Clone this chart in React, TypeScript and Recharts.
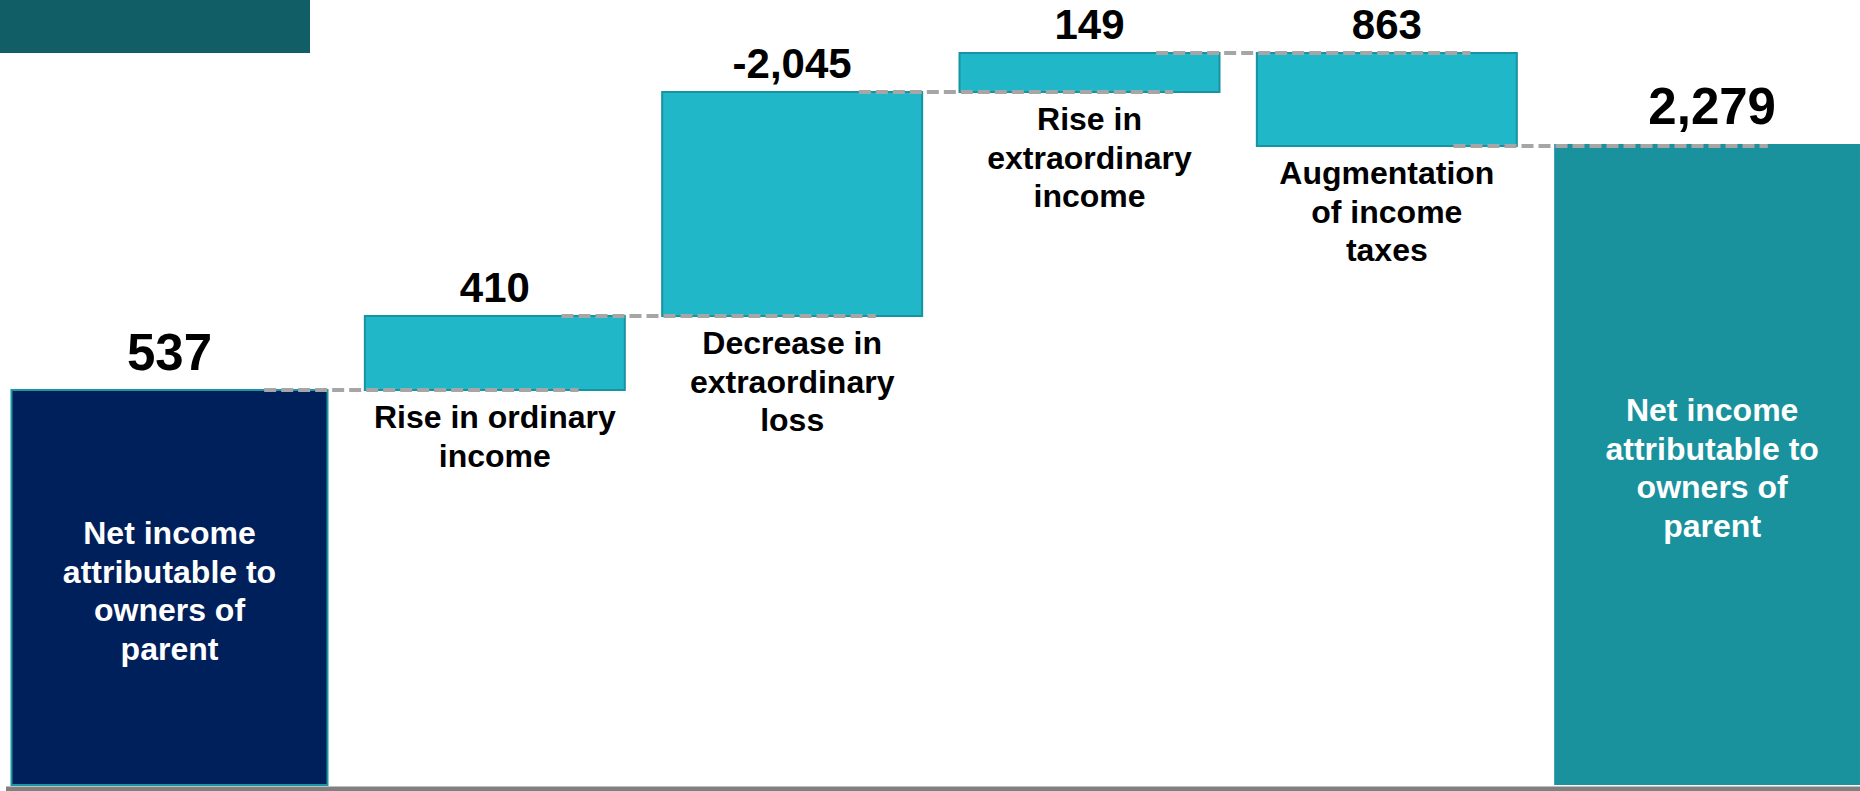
import React from 'react';
import { ComposedChart, Bar, XAxis, YAxis, ReferenceLine, LabelList } from 'recharts';

// ---- Data ----
const categoryKeys = ['start', 'ordinary', 'extraLoss', 'extraIncome', 'taxes', 'end'];
const categoryLines: string[][] = [
  ['Net income', 'attributable to', 'owners of', 'parent'],
  ['Rise in ordinary', 'income'],
  ['Decrease in', 'extraordinary', 'loss'],
  ['Rise in', 'extraordinary', 'income'],
  ['Augmentation', 'of income', 'taxes'],
  ['Net income', 'attributable to', 'owners of', 'parent'],
];
// printed value labels
const valueLabels = ['537', '410', '-2,045', '149', '863', '2,279'];
// step type of each bar in the (schematic) waterfall
const stepKinds = ['total', 'up', 'up', 'up', 'down', 'total'];
// bar heights as drawn in the picture (schematic, not to the printed scale)
const drawnHeights = [395, 74, 224, 39, 93, 641];

// ---- Build the table Recharts needs ----
let running = 0;
const data = categoryKeys.map((key, i) => {
  const kind = stepKinds[i];
  const h = drawnHeights[i];
  let range: [number, number];
  if (kind === 'total') {
    range = [0, h];
    running = h;
  } else if (kind === 'up') {
    range = [running, running + h];
    running += h;
  } else {
    range = [running - h, running];
    running -= h;
  }
  return { key, kind, range, level: running, label: valueLabels[i] };
});

// ---- Styles ----
const FONT = '"Liberation Sans", Arial, Helvetica, sans-serif';
const CHART_W = 1860;
const CHART_H = 791;
const BAR_FILLS = ['#00205B', '#20B7C9', '#20B7C9', '#20B7C9', '#20B7C9', '#1A929E'];
const BAR_STROKES = ['#1C95A2', '#1793A1', '#1793A1', '#1793A1', '#1793A1', 'none'];
const TOTAL_W = 316; // opening / closing totals are wider and extend outward
const CONNECTOR_START = 67;
const CONNECTOR_END = 84;
const LINE_H = 38.5;

function getBox(p: any) {
  const vb = p && p.viewBox && typeof p.viewBox.x === 'number' ? p.viewBox : p;
  return { x: Number(vb.x), y: Number(vb.y), width: Number(vb.width), height: Number(vb.height) };
}

// horizontal extent actually drawn for a bar, given the Recharts rect
function drawnSpan(x: number, width: number, idx: number) {
  if (stepKinds[idx] !== 'total') return { left: x, w: width };
  if (idx === 0) return { left: x + width - TOTAL_W, w: TOTAL_W };
  return { left: x, w: TOTAL_W };
}

function WaterfallBar(props: any) {
  const { x, y, width, height, payload } = props;
  const idx = categoryKeys.indexOf(payload?.key);
  const span = drawnSpan(x, width, idx);
  return (
    <rect
      x={span.left}
      y={y}
      width={span.w}
      height={height}
      fill={BAR_FILLS[idx]}
      stroke={BAR_STROKES[idx]}
      strokeWidth={2}
    />
  );
}

function ValueLabel(props: any) {
  const box = getBox(props);
  let idx = valueLabels.indexOf(String(props.value));
  if (idx < 0 && typeof props.index === 'number') idx = props.index;
  const total = stepKinds[idx] === 'total';
  const span = drawnSpan(box.x, box.width, idx);
  return (
    <text
      x={span.left + span.w / 2}
      y={box.y - (total ? 20 : 14.5)}
      textAnchor="middle"
      fontFamily={FONT}
      fontWeight={700}
      fontSize={total ? 51 : 42}
      fill="#000000"
    >
      {valueLabels[idx]}
    </text>
  );
}

function CategoryLabel(props: any) {
  const box = getBox(props);
  let idx = categoryKeys.indexOf(String(props.value));
  if (idx < 0 && typeof props.index === 'number') idx = props.index;
  const lines = categoryLines[idx] || [];
  const total = stepKinds[idx] === 'total';
  const span = drawnSpan(box.x, box.width, idx);
  const cx = span.left + span.w / 2;
  const firstBaseline = total ? box.y + box.height / 2 - 43.5 : box.y + box.height + 38;
  return (
    <text
      textAnchor="middle"
      fontFamily={FONT}
      fontWeight={700}
      fontSize={32}
      fill={total ? '#FFFFFF' : '#000000'}
    >
      {lines.map((ln, k) => (
        <tspan key={k} x={cx} y={firstBaseline + k * LINE_H}>
          {ln}
        </tspan>
      ))}
    </text>
  );
}

function Connector(props: any) {
  const { x1, y1, x2, y2 } = props;
  if ([x1, y1, x2, y2].some((v) => typeof v !== 'number' || Number.isNaN(v))) return null;
  return (
    <line
      x1={x1 + CONNECTOR_START}
      y1={y1}
      x2={x2 + CONNECTOR_END}
      y2={y2}
      stroke="#A6A6A6"
      strokeWidth={4}
      strokeDasharray="12 5"
    />
  );
}

export default function App() {
  return (
    <div
      style={{
        position: 'absolute',
        left: 0,
        top: 0,
        width: CHART_W,
        height: CHART_H,
        overflow: 'hidden',
        background: '#FFFFFF',
      }}
    >
      <ComposedChart
        width={CHART_W}
        height={CHART_H}
        data={data}
        margin={{ top: 0, right: 0, bottom: 0, left: 6 }}
      >
        <XAxis
          dataKey="key"
          type="category"
          tick={false}
          tickLine={false}
          axisLine={{ stroke: '#808080', strokeWidth: 5 }}
          height={2}
          padding={{ left: 42.5, right: 27.5 }}
        />
        <YAxis hide type="number" domain={[-4, 785]} allowDataOverflow />
        <Bar dataKey="range" barSize={260} shape={WaterfallBar} isAnimationActive={false}>
          <LabelList dataKey="label" content={ValueLabel} />
          <LabelList dataKey="key" content={CategoryLabel} />
        </Bar>
        {data.slice(0, -1).map((d, i) => (
          <ReferenceLine
            key={`conn-${i}`}
            segment={[
              { x: d.key, y: d.level },
              { x: data[i + 1].key, y: d.level },
            ]}
            stroke="#A6A6A6"
            strokeWidth={4}
            strokeDasharray="12 5"
            ifOverflow="visible"
            shape={Connector}
          />
        ))}
      </ComposedChart>
      <div
        style={{
          position: 'absolute',
          left: 0,
          top: 0,
          width: 310,
          height: 53,
          background: '#115E67',
        }}
      />
    </div>
  );
}
